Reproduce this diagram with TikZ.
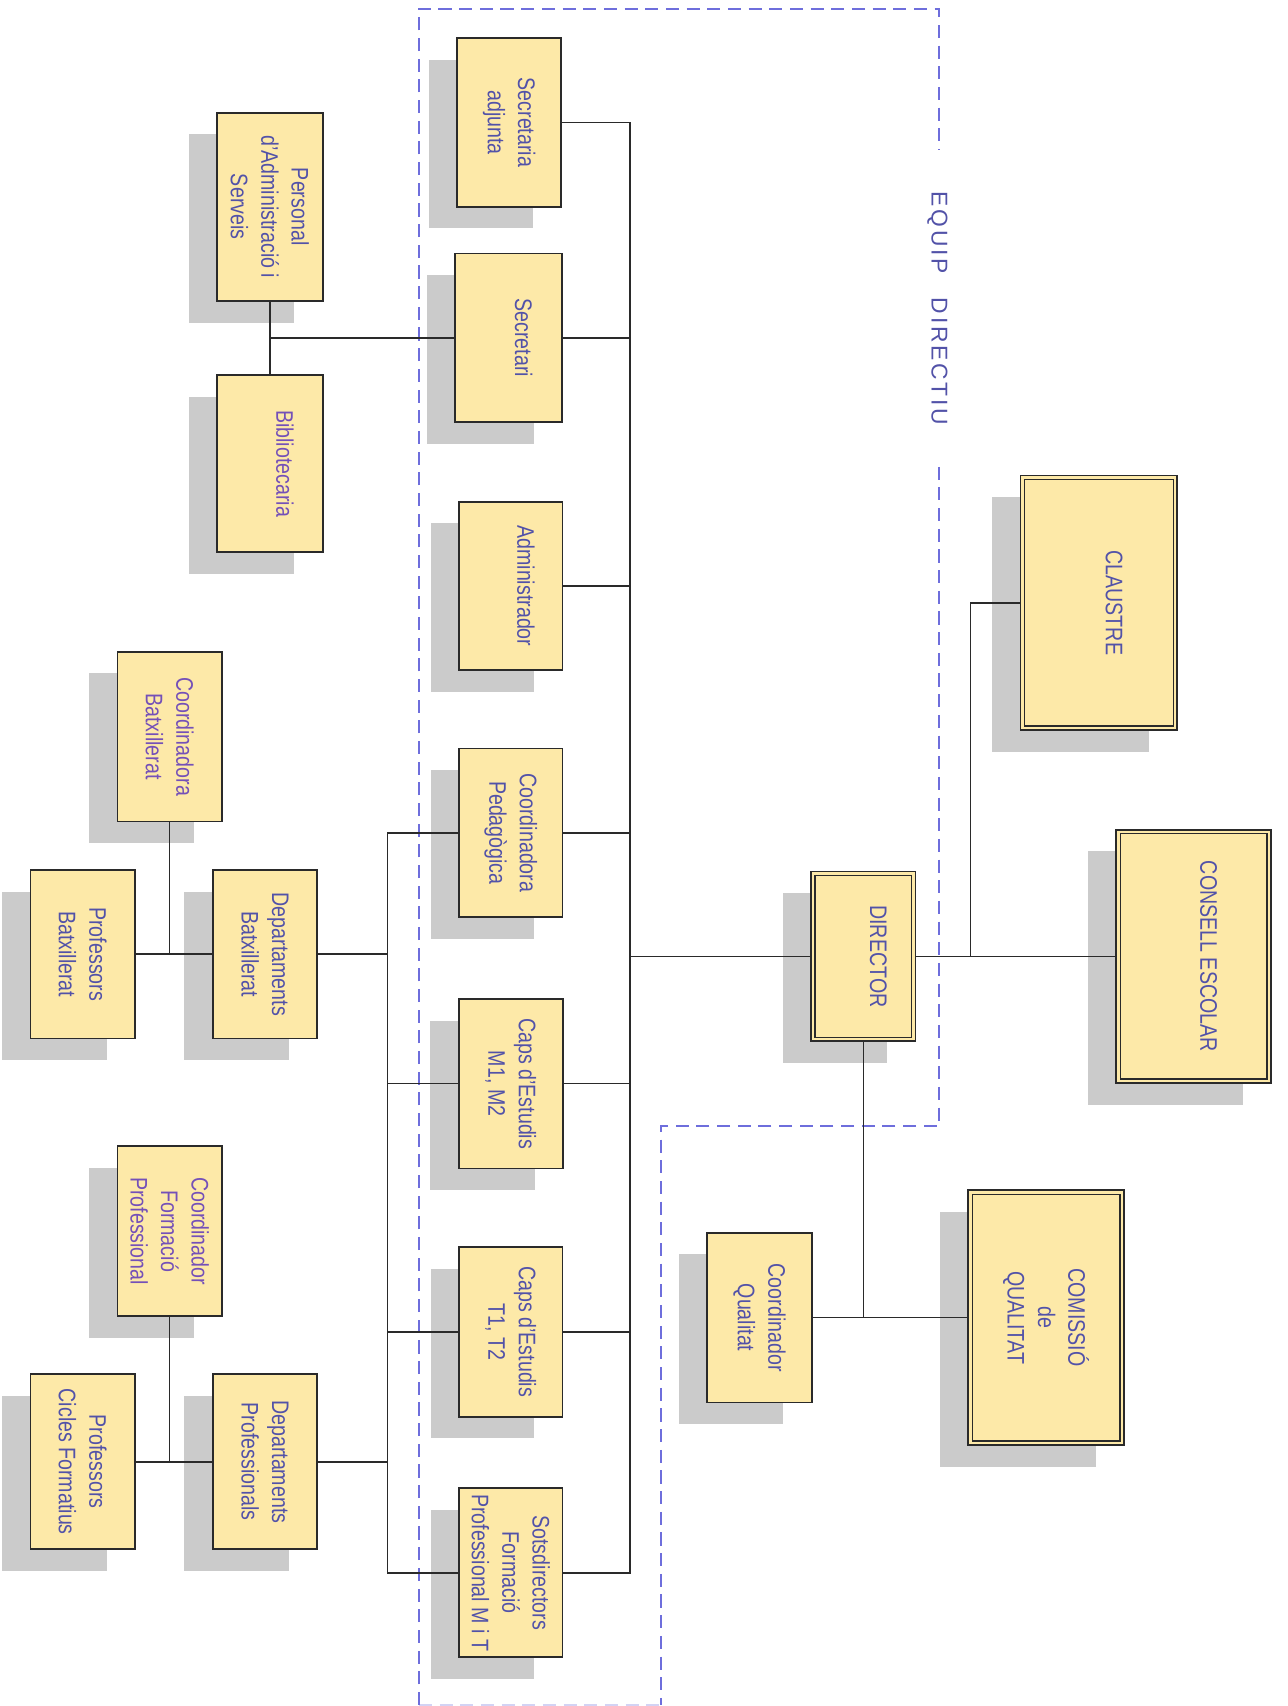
\documentclass[tikz,border=0pt]{standalone}
\usepackage{fontspec}
\setmainfont[FakeStretch=0.82]{Liberation Sans}
\newfontfamily\eqfont[LetterSpace=12]{Liberation Sans}
\usetikzlibrary{calc,backgrounds}
\definecolor{boxfill}{HTML}{FDE9A8}
\definecolor{shadowgray}{HTML}{CBCBCB}
\definecolor{txtblue}{HTML}{5252A8}
\definecolor{txtpurple}{HTML}{7450B8}
\definecolor{dashblue}{HTML}{6E6EDC}
\definecolor{linegray}{HTML}{2A2A2A}
\newcommand\apos{\symbol{39}}
\tikzset{
  box/.style={draw=linegray, line width=1.7pt, fill=boxfill, inner sep=0pt},
  innerframe/.style={draw=linegray, line width=1.3pt},
  lbl/.style={rotate=-90, align=center, inner sep=0pt, text=txtblue,
    font=\fontsize{22}{28}\selectfont},
  purp/.style={text=txtpurple},
  conn/.style={draw=linegray, line width=1.4pt},
  dashb/.style={draw=dashblue, line width=1.8pt, dash pattern=on 12pt off 7pt},
  eqlbl/.style={rotate=-90, inner sep=0pt, text=txtblue,
    font=\eqfont\fontsize{21}{25}\selectfont}
}
% \obox[label style]{name}{cx}{cy}{w}{h}{text}
\newcommand\obox[7][]{%
  \begin{pgfonlayer}{background}
    \fill[shadowgray] ($(#3,#4)+(-26,20)+(-#5/2,-#6/2)$) rectangle ++(#5,#6);
  \end{pgfonlayer}
  \node[box, minimum width=#5pt, minimum height=#6pt] (#2) at (#3,#4) {};
  \node[lbl,#1] (#2-t) at (#2) {#7};
}
\newcommand\dframe[1]{%
  \draw[innerframe] ($(#1.north west)+(4.5,4.5)$) rectangle ($(#1.south east)+(-4.5,-4.5)$);
}
\begin{document}
\begin{tikzpicture}[x=1pt,y=-1pt]
\useasboundingbox (0,0) rectangle (1183,1568);

% dashed "equip directiu" region
\draw[dashb] (385,1567) -- (385,8) -- (863,8) -- (863,138);
\draw[dashb] (863,429) -- (863,1035) -- (607.5,1035) -- (607.5,1567);
\draw[dashb, draw opacity=0.3] (385,1567) -- (607.5,1567);
\node[eqlbl] (eq) at (861.5,283.5) {EQUIP\hspace{22pt}DIRECTIU};

% central column
\obox{sa}{468}{112.5}{96}{155}{Secretaria\\adjunta}
\obox{sec}{467.5}{310.5}{98}{155}{Secretari\\~}
\obox{adm}{469.5}{538.5}{95}{155}{Administrador\\~}
\obox{cp}{469.5}{765.5}{95}{155}{Coordinadora\\Pedagògica}
\obox{cm}{469.5}{996}{96}{156}{Caps d\apos Estudis\\M1, M2}
\obox{ct}{469.5}{1224}{95}{156}{Caps d\apos Estudis\\T1, T2}
\obox{sd}{469.5}{1445.5}{95}{155}{Sotsdirectors\\Formació\\Professional M i T}

% left side
\obox{per}{248}{190}{97}{173}{Personal\\d\apos Administració i\\Serveis}
\obox[purp]{bib}{248}{426}{97}{163}{Bibliotecaria\\~}
\obox[purp]{cb}{156}{677}{96}{156}{Coordinadora\\Batxillerat}
\obox{pb}{76}{877}{96}{155}{Professors\\Batxillerat}
\obox{db}{243.5}{877}{96}{155}{Departaments\\Batxillerat}
\obox[purp]{cfp}{156}{1131.5}{96}{156}{Coordinador\\Formació\\Professional}
\obox{pcf}{76}{1343.5}{96}{161}{Professors\\Cicles Formatius}
\obox{dp}{243.5}{1343.5}{96}{161}{Departaments\\Professionals}

% right side
\obox{dir}{793.5}{879}{96}{156}{DIRECTOR\\~}
\dframe{dir}
\obox{cla}{1010}{554}{144}{234}{CLAUSTRE\\~}
\dframe{cla}
\obox{ce}{1097}{879}{142}{233}{CONSELL ESCOLAR\\~}
\dframe{ce}
\obox{com}{961.5}{1211}{143}{234}{COMISSIÓ\\de\\QUALITAT}
\dframe{com}
\obox{cq}{698}{1211}{96}{156}{Coordinador\\Qualitat}

% bus coordinates
\coordinate (rbT) at (579,112.5);
\coordinate (rbB) at (579,1445.5);
\coordinate (lbT) at (356,765.5);
\coordinate (lbB) at (356,1445.5);
\coordinate (cj) at (892,879);

% connectors: central column to right bus
\draw[conn] (sa.east) -- (rbT) -- (rbB) -- (sd.east);
\draw[conn] (sec.east) -- (sec.east -| rbT);
\draw[conn] (adm.east) -- (adm.east -| rbT);
\draw[conn] (cp.east) -- (cp.east -| rbT);
\draw[conn] (cm.east) -- (cm.east -| rbT);
\draw[conn] (ct.east) -- (ct.east -| rbT);
\draw[conn] (dir.west) -- (dir.west -| rbT);

% left bus
\draw[conn] (cp.west) -- (lbT) -- (lbB) -- (sd.west);
\draw[conn] (cm.west) -- (cm.west -| lbT);
\draw[conn] (ct.west) -- (ct.west -| lbT);
\draw[conn] (db.east) -- (db.east -| lbT);
\draw[conn] (dp.east) -- (dp.east -| lbT);

% left groups
\draw[conn] (pb.east) -- (db.west);
\draw[conn] (cb.south) -- (cb.south |- pb.east);
\draw[conn] (pcf.east) -- (dp.west);
\draw[conn] (cfp.south) -- (cfp.south |- pcf.east);
\draw[conn] (per.south) -- (bib.north);
\draw[conn] (per.south |- sec.west) -- (sec.west);

% director links
\draw[conn] (dir.east) -- (ce.west);
\draw[conn] (cj) |- (cla.west);
\draw[conn] (dir.south) -- (dir.south |- cq.east);
\draw[conn] (cq.east) -- (com.west);
\end{tikzpicture}
\end{document}
